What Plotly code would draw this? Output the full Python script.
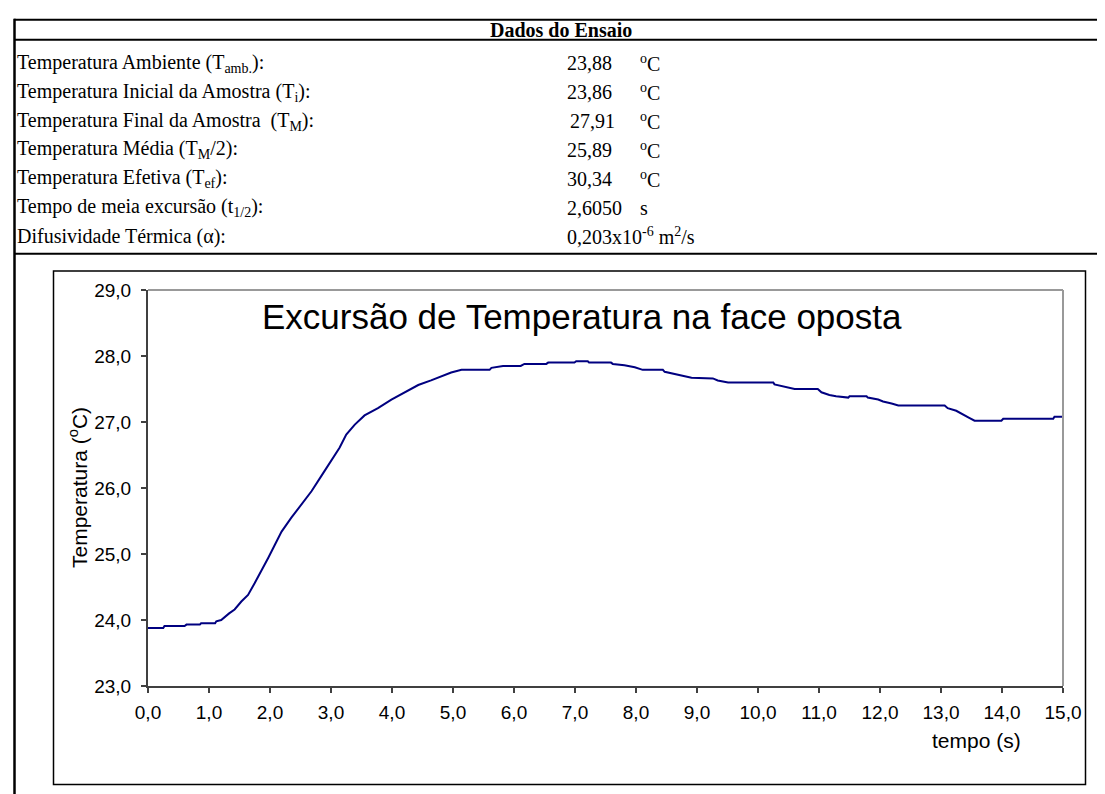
import plotly.graph_objects as go

# ---------------- data ----------------
tempo_s = [0.00, 0.25, 0.27, 0.60, 0.63, 0.85, 0.87, 1.10, 1.12, 1.20, 1.33, 1.42, 1.53, 1.64,
           1.75, 1.86, 1.97, 2.08, 2.19, 2.35, 2.51, 2.68, 2.84, 3.00, 3.14, 3.25, 3.39, 3.55,
           3.77, 3.99, 4.21, 4.43, 4.64, 4.81, 4.97, 5.14, 5.60, 5.63, 5.82, 6.11, 6.17, 6.53,
           6.56, 6.99, 7.02, 7.21, 7.23, 7.59, 7.62, 7.81, 7.98, 8.11, 8.44, 8.47, 8.61, 8.80,
           8.91, 9.26, 9.34, 9.51, 10.25, 10.27, 10.44, 10.60, 10.98, 11.04, 11.17, 11.28, 11.48,
           11.50, 11.78, 11.80, 11.97, 12.05, 12.19, 12.30, 13.06, 13.11, 13.25, 13.36, 13.47,
           13.55, 13.99, 14.02, 14.84, 14.86, 15.00]
temperatura_c = [23.88, 23.88, 23.91, 23.91, 23.93, 23.93, 23.95, 23.95, 23.98, 24.00, 24.10, 24.16,
                 24.28, 24.38, 24.56, 24.74, 24.94, 25.14, 25.34, 25.55, 25.75, 25.95, 26.18, 26.40,
                 26.61, 26.81, 26.96, 27.10, 27.21, 27.34, 27.45, 27.56, 27.63, 27.69, 27.75, 27.79,
                 27.79, 27.82, 27.85, 27.85, 27.88, 27.88, 27.90, 27.90, 27.92, 27.92, 27.90, 27.90,
                 27.88, 27.86, 27.83, 27.79, 27.79, 27.76, 27.73, 27.70, 27.67, 27.66, 27.63, 27.60,
                 27.60, 27.57, 27.53, 27.50, 27.50, 27.45, 27.41, 27.39, 27.37, 27.39, 27.39, 27.37,
                 27.34, 27.31, 27.28, 27.25, 27.25, 27.21, 27.17, 27.12, 27.06, 27.02, 27.02, 27.05,
                 27.05, 27.08, 27.08]

table_header = "Dados do Ensaio"
table_labels = [
    "Temperatura Ambiente (T<sub>amb.</sub>):",
    "Temperatura Inicial da Amostra (T<sub>i</sub>):",
    "Temperatura Final da Amostra  (T<sub>M</sub>):",
    "Temperatura Média (T<sub>M</sub>/2):",
    "Temperatura Efetiva (T<sub>ef</sub>):",
    "Tempo de meia excursão (t<sub>1/2</sub>):",
    "Difusividade Térmica (α):",
]
table_values = ["23,88", "23,86", "27,91", "25,89", "30,34", "2,6050", "0,203x10<sup>-6</sup> m<sup>2</sup>/s"]
table_units = ["<sup>o</sup>C", "<sup>o</sup>C", "<sup>o</sup>C", "<sup>o</sup>C", "<sup>o</sup>C", "s", ""]

chart_title = "Excursão de Temperatura na face oposta"
y_title = "Temperatura (<sup>o</sup>C)"
x_title = "tempo (s)"

# ---------------- layout helpers (pixel -> paper) ----------------
W, H = 1105, 794
PL, PR, PT, PB = 140, 1055, 282, 678


def fx(px):
    return (px - PL) / (PR - PL)


def fy(py):
    return (PB - py) / (PB - PT)


fig = go.Figure()
fig.add_trace(go.Scatter(x=tempo_s, y=temperatura_c, mode="lines",
                         line=dict(color="#000080", width=2), showlegend=False,
                         hoverinfo="x+y"))

shapes = []
# table lines
for yy, wdt in [(11.7, 2), (31.7, 2), (245.7, 2)]:
    shapes.append(dict(type="line", xref="paper", yref="paper", x0=fx(6), x1=fx(1104),
                       y0=fy(yy), y1=fy(yy), line=dict(color="black", width=wdt)))
shapes.append(dict(type="line", xref="paper", yref="paper", x0=fx(6.5), x1=fx(6.5),
                   y0=fy(10.7), y1=fy(800), line=dict(color="black", width=2.5)))
# chart box
shapes.append(dict(type="rect", xref="paper", yref="paper", x0=fx(45.5), x1=fx(1077.5),
                   y0=fy(263), y1=fy(776.5), line=dict(color="black", width=1.5)))
# plot area top/right borders (gray)
shapes.append(dict(type="line", xref="paper", yref="paper", x0=0, x1=1, y0=1, y1=1,
                   line=dict(color="#999999", width=2)))
shapes.append(dict(type="line", xref="paper", yref="paper", x0=1, x1=1, y0=0, y1=1,
                   line=dict(color="#999999", width=2)))

ann = []
serif = "Liberation Serif, Times New Roman, serif"
sans = "Liberation Sans, Arial, sans-serif"
ann.append(dict(text="<b>" + table_header + "</b>", x=fx(553), y=fy(22), xref="paper", yref="paper",
                xanchor="center", yanchor="middle", showarrow=False,
                font=dict(family=serif, size=20, color="black")))
value_dx = [0, 0, 3, 0, 0, 0, 0]
for i, (lab, val, unit) in enumerate(zip(table_labels, table_values, table_units)):
    yc = 55.5 + 28.8 * i
    ann.append(dict(text=lab, x=fx(7), y=fy(yc), xref="paper", yref="paper", xanchor="left",
                    yanchor="middle", showarrow=False, font=dict(family=serif, size=20, color="black")))
    ann.append(dict(text=val, x=fx(557 + value_dx[i]), y=fy(yc), xref="paper", yref="paper",
                    xanchor="left", yanchor="middle", showarrow=False,
                    font=dict(family=serif, size=20, color="black")))
    if unit:
        ann.append(dict(text=unit, x=fx(630), y=fy(yc), xref="paper", yref="paper", xanchor="left",
                        yanchor="middle", showarrow=False, font=dict(family=serif, size=20, color="black")))

ann.append(dict(text=chart_title, x=fx(574), y=fy(308), xref="paper", yref="paper", xanchor="center",
                yanchor="middle", showarrow=False, font=dict(family=sans, size=35, color="black")))
ann.append(dict(text=y_title, x=fx(70), y=fy(480), xref="paper", yref="paper", xanchor="center",
                yanchor="middle", textangle=-90, showarrow=False,
                font=dict(family=sans, size=21, color="black")))
ann.append(dict(text=x_title, x=fx(968), y=fy(732), xref="paper", yref="paper", xanchor="center",
                yanchor="middle", showarrow=False, font=dict(family=sans, size=21, color="black")))

axis_common = dict(showgrid=False, zeroline=False, showline=True, linecolor="#404040", linewidth=2,
                   ticks="outside", ticklen=5, tickwidth=1.5, tickcolor="#404040",
                   tickfont=dict(family=sans, size=19, color="black"), tickformat=".1f", mirror=False)

fig.update_layout(
    width=W, height=H, autosize=False,
    margin=dict(l=PL, r=W - PR, t=PT, b=H - PB, pad=0),
    paper_bgcolor="white", plot_bgcolor="white",
    separators=",.",
    xaxis=dict(range=[0, 15], dtick=1, tick0=0, ticklabelstandoff=3, **axis_common),
    yaxis=dict(range=[23, 29], dtick=1, tick0=23, ticklabelstandoff=6, **axis_common),
    shapes=shapes, annotations=ann, showlegend=False,
)

fig.write_html("out.html")
